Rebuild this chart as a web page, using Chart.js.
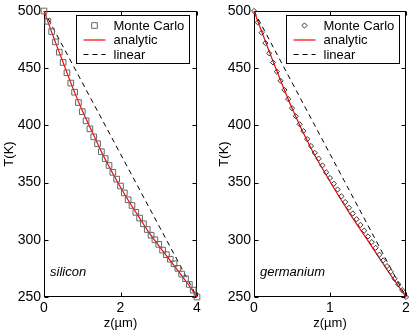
<!DOCTYPE html>
<html>
<head>
<meta charset="utf-8">
<script src="https://cdn.jsdelivr.net/npm/chart.js@4"></script>
<style>
  html, body { margin: 0; padding: 0; background: #fff; }
  #wrap { position: relative; width: 415px; height: 332px; }
  .panel { position: absolute; top: 0; height: 332px; }
</style>
</head>
<body>
<div id="wrap">
  <div class="panel" style="left:0;width:207px"><canvas id="c1" width="207" height="332"></canvas></div>
  <div class="panel" style="left:207px;width:208px"><canvas id="c2" width="208" height="332"></canvas></div>
</div>
<script>
// silicon panel
const siMcZ = [0, 0.1, 0.2, 0.3, 0.4, 0.5, 0.6, 0.7, 0.8, 0.9, 1.0, 1.1, 1.2, 1.3, 1.4, 1.5, 1.6, 1.7, 1.8, 1.9, 2.0,
               2.1, 2.2, 2.3, 2.4, 2.5, 2.6, 2.7, 2.8, 2.9, 3.0, 3.1, 3.2, 3.3, 3.4, 3.5, 3.6, 3.7, 3.8, 3.9, 4.0];
const siMcT = [500, 491, 482, 473, 464, 455, 446, 437, 429, 420, 412, 404, 397, 390, 384, 377, 371, 365, 359, 353, 347,
               341, 335, 330, 324, 319, 314, 309, 304, 300, 296, 291, 287, 283, 279, 275, 270, 266, 261, 256, 250];
const siAnZ = [0, 0.25, 0.5, 0.75, 1, 1.25, 1.5, 1.75, 2, 2.25, 2.5, 2.75, 3, 3.25, 3.5, 3.75, 4];
const siAnT = [500, 477, 455, 433, 413, 395, 377, 361, 346, 332, 319, 306, 295, 284, 273, 262, 250];
const siLinZ = [0, 4];
const siLinT = [500, 250];

// germanium panel
const geMcZ = [0, 0.05, 0.1, 0.15, 0.2, 0.25, 0.3, 0.35, 0.4, 0.45, 0.5, 0.55, 0.6, 0.65, 0.7, 0.75, 0.8, 0.85, 0.9, 0.95, 1.0,
               1.05, 1.1, 1.15, 1.2, 1.25, 1.3, 1.35, 1.4, 1.45, 1.5, 1.55, 1.6, 1.65, 1.7, 1.75, 1.8, 1.85, 1.9, 1.95, 2.0];
const geMcT = [500, 490, 481, 472, 463, 455, 447, 439, 431, 423, 415, 408, 401, 395, 388, 382, 376, 371, 365, 359, 354,
               349, 344, 338, 333, 328, 323, 318, 313, 308, 303, 298, 293, 287, 282, 277, 272, 266, 261, 256, 250];
const geAnZ = [0, 0.25, 0.5, 0.75, 1, 1.25, 1.5, 1.75, 2];
const geAnT = [500, 456, 415, 380, 351, 324, 299, 274, 250];
const geLinZ = [0, 2];
const geLinT = [500, 250];

const yTicks = [250, 300, 350, 400, 450, 500];
const seriesNames = ['Monte Carlo', 'analytic', 'linear'];

const FONT = '"Liberation Sans", Arial, Helvetica, sans-serif';

function pts(xs, ys) {
  return xs.map((x, i) => ({ x: x, y: ys[i] }));
}

// box round the plot with inward ticks on all four sides
const framePlugin = {
  id: 'frame',
  beforeDatasetsDraw(chart) {
    const { ctx, chartArea: a, scales } = chart;
    const L = Math.round(a.left) + 0.5, R = Math.round(a.right) - 0.5;
    const T = Math.round(a.top) + 0.5, B = Math.round(a.bottom) - 0.5;
    ctx.save();
    ctx.strokeStyle = '#000';
    ctx.lineWidth = 1;
    ctx.strokeRect(L, T, R - L, B - T);
    ctx.beginPath();
    scales.x.ticks.forEach(t => {
      const px = Math.round(scales.x.getPixelForValue(t.value)) + 0.5;
      ctx.moveTo(px, B); ctx.lineTo(px, B - 4);
      ctx.moveTo(px, T); ctx.lineTo(px, T + 4);
    });
    scales.y.ticks.forEach(t => {
      const py = Math.round(scales.y.getPixelForValue(t.value)) + 0.5;
      ctx.moveTo(L, py); ctx.lineTo(L + 4, py);
      ctx.moveTo(R, py); ctx.lineTo(R - 4, py);
    });
    ctx.stroke();
    ctx.restore();
  },
  afterDraw(chart) {
    const { ctx, chartArea: a } = chart;
    const o = chart.options.plugins.frame;
    // legend box
    const w = 113, h = 48;
    const x0 = Math.round(a.right - o.legendRight - w) + 0.5;
    const y0 = Math.round(a.top + 4) + 0.5;
    ctx.save();
    ctx.fillStyle = '#fff';
    ctx.fillRect(x0, y0, w, h);
    ctx.strokeStyle = '#000';
    ctx.lineWidth = 1;
    ctx.strokeRect(x0, y0, w, h);
    chart.data.datasets.forEach((ds, i) => {
      const cy = y0 + 10 + i * 14.5;
      if (ds.showLine) {
        ctx.save();
        ctx.strokeStyle = ds.borderColor;
        ctx.lineWidth = ds.borderWidth;
        ctx.setLineDash(ds.borderDash || []);
        ctx.beginPath();
        ctx.moveTo(x0 + 7, cy);
        ctx.lineTo(x0 + 29, cy);
        ctx.stroke();
        ctx.restore();
      } else {
        ctx.save();
        ctx.strokeStyle = ds.pointBorderColor;
        ctx.lineWidth = ds.pointBorderWidth;
        Chart.helpers.drawPoint(ctx, { pointStyle: ds.pointStyle, radius: ds.pointRadius, borderWidth: 1 }, x0 + 18, cy);
        ctx.restore();
      }
      ctx.fillStyle = '#000';
      ctx.font = '13px ' + FONT;
      ctx.textBaseline = 'middle';
      ctx.textAlign = 'left';
      ctx.fillText(ds.label, x0 + 37, cy + 0.5);
    });
    // material label
    ctx.fillStyle = '#000';
    ctx.font = 'italic 13px ' + FONT;
    ctx.textBaseline = 'middle';
    ctx.textAlign = 'left';
    ctx.fillText(o.material, a.left + 6, a.bottom - 25);
    ctx.restore();
  }
};

function makeChart(id, cfg) {
  return new Chart(document.getElementById(id), {
    type: 'scatter',
    data: {
      datasets: [
        {
          label: seriesNames[0],
          data: pts(cfg.mcZ, cfg.mcT),
          showLine: false,
          pointStyle: cfg.marker,
          pointRadius: cfg.markerRadius,
          pointBorderColor: cfg.markerColor,
          pointBackgroundColor: 'rgba(0,0,0,0)',
          pointBorderWidth: 1,
          clip: false
        },
        {
          label: seriesNames[1],
          data: pts(cfg.anZ, cfg.anT),
          showLine: true,
          borderColor: '#ff0000',
          borderWidth: 1.2,
          pointRadius: 0,
          tension: 0.3,
          clip: false
        },
        {
          label: seriesNames[2],
          data: pts(cfg.linZ, cfg.linT),
          showLine: true,
          borderColor: '#000',
          borderWidth: 1,
          borderDash: [5, 4],
          pointRadius: 0,
          clip: false
        }
      ]
    },
    options: {
      responsive: false,
      animation: false,
      events: [],
      layout: { padding: { left: 0, top: 11, right: cfg.padRight, bottom: 0 } },
      scales: {
        x: {
          type: 'linear',
          min: 0,
          max: cfg.xMax,
          grid: { display: false, drawTicks: false },
          border: { display: false },
          ticks: {
            stepSize: cfg.xStep,
            padding: 3,
            color: '#000',
            font: { family: FONT, size: 14 }
          },
          title: {
            display: true,
            text: 'z(\u00b5m)',
            color: '#000',
            font: { family: FONT, size: 13 },
            padding: { top: 0, bottom: 1 }
          },
          afterFit(s) { s.height = 35; s.paddingLeft = 0; s.paddingRight = 0; }
        },
        y: {
          type: 'linear',
          min: 250,
          max: 500,
          grid: { display: false, drawTicks: false },
          border: { display: false },
          afterBuildTicks(s) { s.ticks = yTicks.map(v => ({ value: v })); },
          ticks: {
            padding: 3,
            color: '#000',
            font: { family: FONT, size: 14 }
          },
          title: {
            display: true,
            text: 'T(K)',
            color: '#000',
            font: { family: FONT, size: 13 },
            padding: { top: cfg.yTitlePad, bottom: 0 }
          },
          afterFit(s) { s.width = cfg.yWidth; s.paddingTop = 0; s.paddingBottom = 0; }
        }
      },
      plugins: {
        legend: { display: false },
        tooltip: { enabled: false },
        frame: { legendRight: cfg.legendRight, material: cfg.material }
      }
    },
    plugins: [framePlugin]
  });
}

makeChart('c1', {
  mcZ: siMcZ, mcT: siMcT, anZ: siAnZ, anT: siAnT, linZ: siLinZ, linT: siLinT,
  marker: 'rect', markerRadius: 4, markerColor: '#666',
  xMax: 4, xStep: 2, padRight: 10, yWidth: 44, yTitlePad: 2,
  legendRight: 8, material: 'silicon'
});

makeChart('c2', {
  mcZ: geMcZ, mcT: geMcT, anZ: geAnZ, anT: geAnT, linZ: geLinZ, linT: geLinT,
  marker: 'rectRot', markerRadius: 2.6, markerColor: '#333',
  xMax: 2, xStep: 1, padRight: 9, yWidth: 47, yTitlePad: 10,
  legendRight: 7, material: 'germanium'
});
</script>
</body>
</html>
